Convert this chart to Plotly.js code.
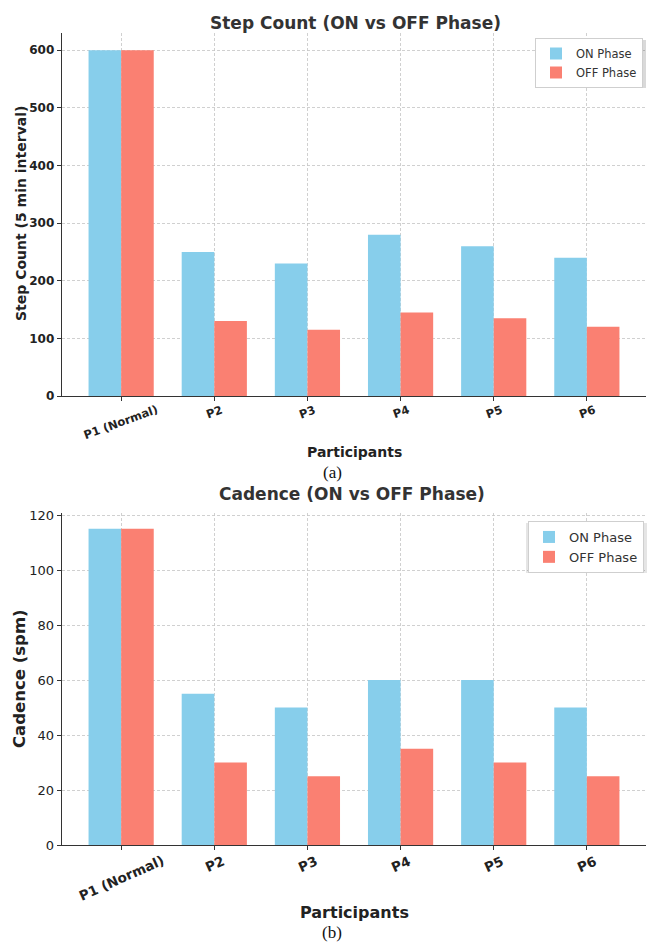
<!DOCTYPE html>
<html>
<head>
<meta charset="utf-8">
<script src="https://cdn.plot.ly/plotly-3.0.1.min.js"></script>
<style>html,body{margin:0;padding:0;background:#fff;}#chart{width:653px;height:942px;}</style>
</head>
<body>
<div id="chart"></div>
<script>
const categories = ['P1 (Normal)', 'P2', 'P3', 'P4', 'P5', 'P6'];
const stepOn  = [600, 250, 230, 280, 260, 240];
const stepOff = [600, 130, 115, 145, 135, 120];
const cadOn   = [115, 55, 50, 60, 60, 50];
const cadOff  = [115, 30, 25, 35, 30, 25];
const seriesNames = ['ON Phase', 'OFF Phase'];
const colors = ['#87CEEB', '#FA8072'];

const W = 653, H = 942;
const px = x => x / W;
const py = y => 1 - y / H;
const FF = 'DejaVu Sans, Verdana, sans-serif';
const txt = '#222';

function bar(x, y, name, color, xa, ya, leg) {
  return {type: 'bar', x: x, y: y, name: name, marker: {color: color, line: {width: 0}},
          xaxis: xa, yaxis: ya, legend: leg, hoverinfo: 'x+y'};
}

const data = [
  bar(categories, stepOn, seriesNames[0], colors[0], 'x', 'y', 'legend'),
  bar(categories, stepOff, seriesNames[1], colors[1], 'x', 'y', 'legend'),
  bar(categories, cadOn, seriesNames[0], colors[0], 'x2', 'y2', 'legend2'),
  bar(categories, cadOff, seriesNames[1], colors[1], 'x2', 'y2', 'legend2')
];

const gridStyle = {showgrid: true, gridcolor: '#c4c4c4', gridwidth: 0.8, griddash: '3px,2px'};
const xBase = Object.assign({
  type: 'category', range: [-0.635, 5.635], domain: [px(62), px(646)],
  showline: true, linecolor: '#333', linewidth: 1.3, ticks: 'outside', ticklen: 4,
  tickcolor: '#333', showticklabels: false, zeroline: false, fixedrange: true
}, gridStyle);

const layout = {
  width: W, height: H, margin: {l: 0, r: 0, t: 0, b: 0},
  paper_bgcolor: '#fff', plot_bgcolor: '#fff',
  barmode: 'group', bargap: 0.3, bargroupgap: 0,
  xaxis: Object.assign({}, xBase, {anchor: 'y'}),
  xaxis2: Object.assign({}, xBase, {anchor: 'y2'}),
  yaxis: Object.assign({
    domain: [py(396), py(33)], range: [0, 630], dtick: 100, anchor: 'x',
    showline: true, linecolor: '#333', linewidth: 1.3, ticks: 'outside', ticklen: 4, tickcolor: '#333',
    tickfont: {family: FF, size: 12, color: txt, weight: 'bold'}, zeroline: false
  }, gridStyle),
  yaxis2: Object.assign({
    domain: [py(845), py(513)], range: [0, 120.75], dtick: 20, anchor: 'x2',
    showline: true, linecolor: '#333', linewidth: 1.3, ticks: 'outside', ticklen: 4, tickcolor: '#333',
    tickfont: {family: FF, size: 13, color: txt}, zeroline: false
  }, gridStyle),
  legend: {
    x: px(643), xanchor: 'right', y: py(38), yanchor: 'top',
    bgcolor: '#fff', bordercolor: '#cfcfcf', borderwidth: 1,
    font: {family: FF, size: 11.5, color: '#333'}, tracegroupgap: 0
  },
  legend2: {
    x: px(644), xanchor: 'right', y: py(521), yanchor: 'top',
    bgcolor: '#fff', bordercolor: '#cfcfcf', borderwidth: 1,
    font: {family: FF, size: 13, color: '#333'}, tracegroupgap: 0
  },
  showlegend: true,
  annotations: []
};

function ann(text, x, y, opts) {
  return Object.assign({text: text, x: px(x), y: py(y), xref: 'paper', yref: 'paper',
    showarrow: false, xanchor: 'center', yanchor: 'middle'}, opts);
}

// titles
layout.annotations.push(ann('Step Count (ON vs OFF Phase)', 355, 23,
  {font: {family: FF, size: 17, color: '#333', weight: 'bold'}}));
layout.annotations.push(ann('Cadence (ON vs OFF Phase)', 352, 494,
  {font: {family: FF, size: 17, color: '#333', weight: 'bold'}}));
// x axis titles
layout.annotations.push(ann('Participants', 354, 452,
  {font: {family: FF, size: 14, color: txt, weight: 'bold'}}));
layout.annotations.push(ann('Participants', 354, 912,
  {font: {family: FF, size: 16, color: txt, weight: 'bold'}}));
// y axis titles
layout.annotations.push(ann('Step Count (5 min interval)', 21, 214,
  {textangle: -90, font: {family: FF, size: 14, color: txt, weight: 'bold'}}));
layout.annotations.push(ann('Cadence (spm)', 19, 679,
  {textangle: -90, font: {family: FF, size: 16.5, color: txt, weight: 'bold'}}));
// captions
layout.annotations.push(ann('(a)', 332, 472,
  {font: {family: 'Liberation Serif, Times New Roman, serif', size: 17, color: '#111'}}));
layout.annotations.push(ann('(b)', 332, 932,
  {font: {family: 'Liberation Serif, Times New Roman, serif', size: 17, color: '#111'}}));
// rotated category labels
categories.forEach(c => {
  layout.annotations.push({text: c, x: c, xref: 'x', y: py(400), yref: 'paper',
    showarrow: false, xanchor: 'center', yanchor: 'top', textangle: -20,
    font: {family: FF, size: 11.5, color: txt, weight: 'bold'}});
  layout.annotations.push({text: c, x: c, xref: 'x2', y: py(850), yref: 'paper',
    showarrow: false, xanchor: 'center', yanchor: 'top', textangle: -24,
    font: {family: FF, size: 13.5, color: txt, weight: 'bold'}});
});

// legend shadows
layout.shapes = [
  {type: 'rect', xref: 'paper', yref: 'paper', x0: px(537), x1: px(646), y0: py(40), y1: py(88),
   fillcolor: 'rgba(0,0,0,0.15)', line: {width: 0}, layer: 'above'},
  {type: 'rect', xref: 'paper', yref: 'paper', x0: px(526), x1: px(647), y0: py(523), y1: py(573),
   fillcolor: 'rgba(0,0,0,0.10)', line: {width: 0}, layer: 'above'}
];

Plotly.newPlot('chart', data, layout, {displayModeBar: false, staticPlot: true});
</script>
</body>
</html>
